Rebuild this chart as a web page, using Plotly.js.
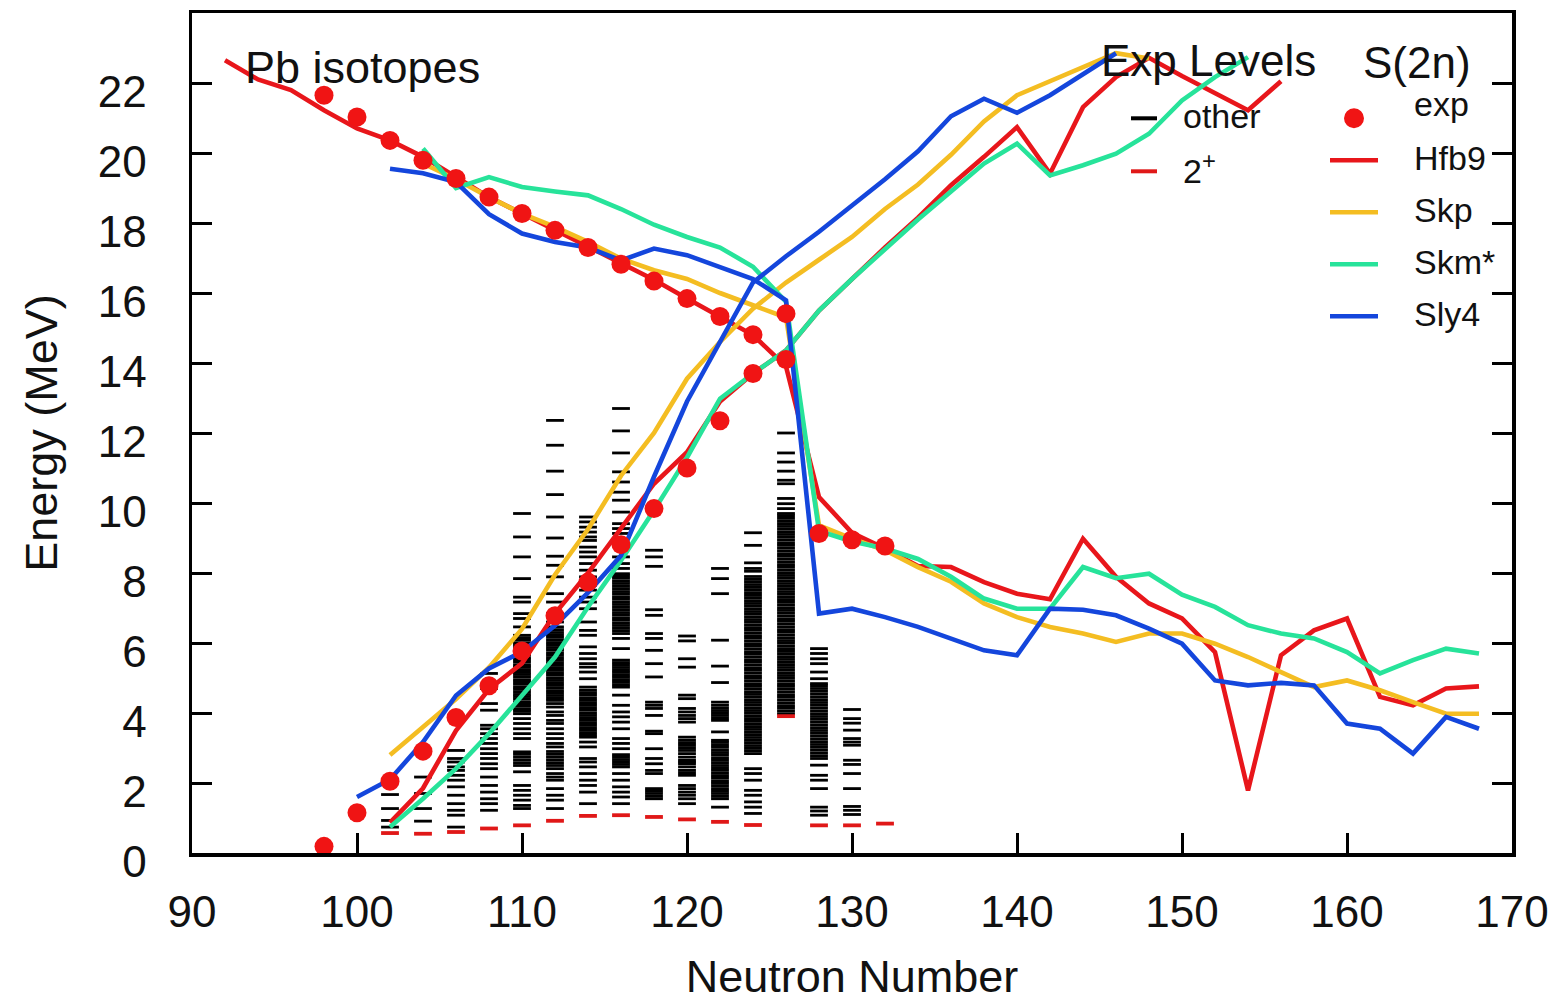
<!DOCTYPE html>
<html><head><meta charset="utf-8">
<script src="https://cdn.plot.ly/plotly-3.0.1.min.js"></script>
<style>html,body{margin:0;padding:0;background:#fff;}#chart{width:1549px;height:1002px;}</style>
</head><body><div id="chart"></div>
<script>
// ---------------- data ----------------
// experimental S(2n)-type points (two branches)
const expUpperN = [98,100,102,104,106,108,110,112,114,116,118,120,122,124,126,128,130,132];
const expUpperE = [21.65,21.03,20.36,19.79,19.27,18.74,18.27,17.79,17.30,16.82,16.34,15.84,15.33,14.81,15.41,9.13,8.95,8.77];
const expLowerN = [98,100,102,104,106,108,110,112,114,116,118,120,122,124,126];
const expLowerE = [0.19,1.15,2.05,2.91,3.87,4.78,5.77,6.78,7.74,8.81,9.84,11.0,12.35,13.7,14.1];

// Hfb9
const hfb9DescN = [92,94,96,98,100,102,104,106,108,110,112,114,116,118,120,122,124,126,128,130,132,134,136,138,140,142,144,146,148,150,152,154,156,158,160,162,164,166,168];
const hfb9DescE = [22.65,22.1,21.8,21.22,20.7,20.36,19.89,19.31,18.74,18.27,17.79,17.33,16.86,16.38,15.84,15.33,14.8,13.9,10.17,9.15,8.7,8.2,8.17,7.74,7.41,7.25,8.98,7.89,7.13,6.7,5.74,1.79,5.65,6.36,6.7,4.46,4.22,4.7,4.76];
const hfb9AscN = [102,104,106,108,110,112,114,116,118,120,122,124,126,128,130,132,134,136,138,140,142,144,146,148,150,152,154,156];
const hfb9AscE = [0.87,1.85,3.5,4.68,5.42,6.84,8.0,9.3,10.55,11.45,12.9,13.7,14.36,15.5,16.4,17.3,18.15,19.08,19.89,20.74,19.41,21.31,22.17,22.72,22.2,21.7,21.22,22.05];

// Skp
const skpDescN = [104,106,108,110,112,114,116,118,120,122,124,126,128,130,132,134,136,138,140,142,144,146,148,150,152,154,156,158,160,162,164,166,168];
const skpDescE = [19.7,19.25,18.74,18.27,17.89,17.46,16.98,16.65,16.4,16.0,15.65,15.3,9.36,8.98,8.65,8.17,7.75,7.13,6.74,6.46,6.27,6.03,6.27,6.27,5.98,5.6,5.17,4.74,4.93,4.65,4.31,3.98,3.98];
const skpAscN = [102,104,106,108,110,112,114,116,118,120,122,124,126,128,130,132,134,136,138,140,142,144,146,148];
const skpAscE = [2.8,3.6,4.4,5.3,6.4,7.95,9.25,10.78,12.0,13.55,14.6,15.55,16.3,16.95,17.6,18.4,19.1,19.95,20.9,21.65,22.05,22.45,22.85,22.7];

// Skm*
const skmDescN = [104,106,108,110,112,114,116,118,120,122,124,126,128,130,132,134,136,138,140,142,144,146,148,150,152,154,156,158,160,162,164,166,168];
const skmDescE = [20.13,19.0,19.31,19.03,18.9,18.79,18.4,17.95,17.6,17.3,16.75,15.75,9.2,8.9,8.7,8.4,7.89,7.27,6.98,6.98,8.17,7.85,7.98,7.38,7.03,6.51,6.27,6.13,5.74,5.13,5.51,5.84,5.7];
const skmAscN = [102,104,106,108,110,112,114,116,118,120,122,124,126,128,130,132,134,136,138,140,142,144,146,148,150,152,154];
const skmAscE = [0.74,1.55,2.41,3.41,4.5,5.6,7.03,8.36,9.79,11.3,12.98,13.7,14.36,15.5,16.4,17.25,18.1,18.9,19.7,20.27,19.36,19.65,19.98,20.55,21.5,22.17,22.74];

// Sly4
const sly4DescN = [102,104,106,108,110,112,114,116,118,120,122,124,126,128,130,132,134,136,138,140,142,144,146,148,150,152,154,156,158,160,162,164,166,168];
const sly4DescE = [19.55,19.42,19.17,18.25,17.7,17.46,17.3,16.93,17.27,17.08,16.74,16.4,15.79,6.84,6.98,6.74,6.46,6.13,5.79,5.65,6.98,6.95,6.79,6.41,5.98,4.93,4.79,4.86,4.79,3.7,3.55,2.84,3.89,3.55];
const sly4AscN = [100,102,104,106,108,110,112,114,116,118,120,122,124,126,128,130,132,134,136,138,140,142,144,146];
const sly4AscE = [1.6,2.1,3.17,4.5,5.27,5.75,6.5,7.44,8.5,10.75,12.9,14.6,16.3,17.05,17.75,18.5,19.25,20.05,21.05,21.55,21.15,21.65,22.25,22.85];

// experimental levels ("other") per neutron number
const lev102 = [0.74,0.93,1.27,1.67];
const lev104 = [0.91,1.27,1.70,2.17];
const lev106 = [0.74,1.08,1.22,1.41,1.65,1.89,2.08,2.22,2.36,2.46,2.60,2.70,2.93];
const lev108 = [1.22,1.41,1.55,1.74,1.93,2.17,2.41,2.55,2.70,2.84,2.98,3.13,3.27,3.41,3.55,3.65,4.08,4.27,4.70,5.13];
const lev110 = [1.27,1.36,1.51,1.65,1.79,1.93,2.32,2.50,2.58,2.66,2.74,2.82,2.89,3.27,3.41,3.55,3.70,3.84,3.98,4.05,4.11,4.19,4.26,4.32,4.40,4.47,4.53,4.61,4.68,4.74,4.82,4.89,4.95,5.03,5.10,5.16,5.24,5.31,5.37,5.45,5.52,5.58,5.66,5.73,5.79,5.87,5.94,6.00,6.08,6.15,6.22,6.46,6.70,6.84,7.17,7.31,7.84,8.46,9.03,9.70];
const lev112 = [1.27,1.51,1.65,1.84,2.08,2.17,2.27,2.41,2.50,2.58,2.66,2.74,2.82,2.90,3.03,3.13,3.27,3.41,3.55,3.70,3.79,3.93,4.03,4.17,4.27,4.36,4.43,4.50,4.57,4.64,4.72,4.79,4.86,4.93,5.00,5.08,5.15,5.22,5.29,5.36,5.44,5.51,5.58,5.65,5.72,5.80,5.87,5.94,6.01,6.08,6.16,6.23,6.30,6.38,6.46,6.60,6.84,7.17,7.41,7.89,8.22,8.48,9.00,9.60,10.24,10.91,11.65,12.36];
const lev114 = [1.41,1.74,1.93,2.08,2.27,2.46,2.60,2.70,3.03,3.17,3.31,3.37,3.44,3.51,3.58,3.65,3.72,3.79,3.86,3.93,4.00,4.08,4.15,4.22,4.29,4.36,4.43,4.51,4.58,4.65,4.74,4.98,5.17,5.31,5.41,5.55,5.70,5.89,6.22,6.36,6.60,6.98,7.17,7.31,7.51,7.65,7.89,8.08,8.27,8.46,8.60,8.74,8.93,9.03,9.17,9.31,9.46,9.60];
const lev116 = [1.41,1.60,1.74,1.89,2.08,2.27,2.46,2.53,2.60,2.67,2.74,2.81,2.98,3.13,3.27,3.55,3.74,3.89,4.03,4.22,4.51,4.74,4.81,4.88,4.95,5.02,5.09,5.16,5.23,5.30,5.37,5.44,5.51,5.84,6.13,6.27,6.35,6.42,6.50,6.57,6.65,6.72,6.80,6.87,6.95,7.02,7.10,7.17,7.25,7.32,7.40,7.47,7.55,7.62,7.70,7.77,7.85,7.92,7.98,8.13,8.27,8.46,9.13,9.27,9.41,9.74,10.08,10.31,10.60,10.89,11.43,12.06,12.70];
const lev118 = [1.55,1.62,1.70,1.77,1.84,2.27,2.36,2.55,2.70,2.98,3.41,3.48,3.93,4.13,4.22,4.31,5.03,5.41,5.79,6.13,6.27,6.79,6.95,8.19,8.46,8.65];
const lev120 = [1.41,1.55,1.65,1.74,1.84,1.93,2.22,2.29,2.36,2.46,2.55,2.60,2.65,2.74,2.84,2.93,3.01,3.08,3.15,3.22,3.31,3.74,3.84,3.93,4.03,4.13,4.41,4.51,5.31,5.55,6.06,6.20];
const lev122 = [1.31,1.55,1.62,1.70,1.77,1.84,1.92,1.99,2.06,2.14,2.21,2.28,2.36,2.43,2.50,2.58,2.65,2.72,2.80,2.87,2.94,3.02,3.09,3.16,3.22,3.46,3.79,3.86,3.93,4.00,4.07,4.14,4.22,4.31,4.87,5.34,6.08,7.41,7.84,8.13];
const lev124 = [1.13,1.31,1.46,1.65,1.79,2.08,2.27,2.41,2.84,2.92,2.99,3.07,3.15,3.22,3.30,3.38,3.45,3.53,3.61,3.68,3.76,3.84,3.91,3.99,4.07,4.14,4.22,4.30,4.37,4.45,4.53,4.60,4.68,4.76,4.83,4.91,4.99,5.06,5.14,5.22,5.29,5.37,5.45,5.52,5.60,5.68,5.75,5.83,5.91,5.98,6.06,6.14,6.21,6.29,6.37,6.44,6.52,6.60,6.67,6.75,6.83,6.90,6.98,7.06,7.13,7.21,7.29,7.36,7.44,7.52,7.59,7.67,7.75,7.82,7.90,8.05,8.13,8.29,8.79,9.15];
const lev126 = [3.98,4.06,4.14,4.21,4.29,4.37,4.45,4.52,4.60,4.68,4.76,4.83,4.91,4.99,5.07,5.14,5.22,5.30,5.38,5.45,5.53,5.61,5.69,5.76,5.84,5.92,6.00,6.07,6.15,6.23,6.31,6.38,6.46,6.54,6.62,6.69,6.77,6.85,6.93,7.00,7.08,7.16,7.24,7.31,7.39,7.47,7.55,7.62,7.70,7.78,7.86,7.93,8.01,8.09,8.17,8.24,8.32,8.40,8.48,8.55,8.63,8.71,8.79,8.86,8.94,9.02,9.10,9.17,9.25,9.33,9.41,9.48,9.56,9.64,9.70,9.84,9.98,10.13,10.55,10.65,10.91,11.17,11.43,12.0];
const lev128 = [1.08,1.20,1.31,1.84,2.08,2.22,2.51,2.70,2.78,2.86,2.94,3.02,3.10,3.18,3.26,3.34,3.42,3.50,3.58,3.66,3.74,3.82,3.90,3.98,4.06,4.14,4.22,4.30,4.38,4.46,4.54,4.62,4.70,4.78,4.84,4.98,5.17,5.41,5.55,5.70,5.84];
const lev130 = [1.10,1.22,1.33,1.84,2.27,2.53,2.65,3.08,3.17,3.27,3.51,3.71,3.84,4.10];
const levelN = [102,104,106,108,110,112,114,116,118,120,122,124,126,128,130];

// first 2+ levels
const twoPlusN = [102,104,106,108,110,112,114,116,118,120,122,124,126,128,130,132];
const twoPlusE = [0.57,0.55,0.60,0.70,0.79,0.92,1.06,1.08,1.03,0.96,0.89,0.80,3.91,0.79,0.79,0.84];

// tick values
const xTicks = [90,100,110,120,130,140,150,160,170];
const yTicks = [0,2,4,6,8,10,12,14,16,18,20,22];

// ---------------- build ----------------
const FONT = 'Liberation Sans, Arial, Helvetica, sans-serif';
const HW = 0.54; // half width of a level dash, in neutron-number units
const levelLists = [lev102,lev104,lev106,lev108,lev110,lev112,lev114,lev116,lev118,lev120,lev122,lev124,lev126,lev128,lev130];

function dashes(ns, lists) {
  const x = [], y = [];
  ns.forEach((n, i) => {
    lists[i].forEach(e => { x.push(n - HW, n + HW, null); y.push(e, e, null); });
  });
  return {x, y};
}
const other = dashes(levelN, levelLists);
const tp = dashes(twoPlusN, twoPlusE.map(e => [e]));

const RED = '#e8161b', YEL = '#f4bd22', GRN = '#27e39a', BLU = '#1446dc';
const LW = 4.6;
function line(n, e, color, name) {
  return {x: n, y: e, type: 'scatter', mode: 'lines', name: name, showlegend: false,
          line: {color: color, width: LW}, hoverinfo: 'skip'};
}

const traces = [
  {x: other.x, y: other.y, type: 'scatter', mode: 'lines', name: 'other', showlegend: false,
   line: {color: '#000', width: 2.8}, hoverinfo: 'skip'},
  {x: tp.x, y: tp.y, type: 'scatter', mode: 'lines', name: '2+', showlegend: false,
   line: {color: '#e01818', width: 3.8}, hoverinfo: 'skip'},
  line(hfb9DescN, hfb9DescE, RED, 'Hfb9'),
  line(hfb9AscN, hfb9AscE, RED, 'Hfb9'),
  line(skpDescN, skpDescE, YEL, 'Skp'),
  line(skpAscN, skpAscE, YEL, 'Skp'),
  line(skmDescN, skmDescE, GRN, 'Skm*'),
  line(skmAscN, skmAscE, GRN, 'Skm*'),
  line(sly4DescN, sly4DescE, BLU, 'Sly4'),
  line(sly4AscN, sly4AscE, BLU, 'Sly4'),
  {x: expUpperN, y: expUpperE, type: 'scatter', mode: 'markers', name: 'exp', showlegend: false,
   marker: {color: '#f01414', size: 19}},
  {x: expLowerN, y: expLowerE, type: 'scatter', mode: 'markers', name: 'exp', showlegend: false,
   marker: {color: '#f01414', size: 19}}
];

// plot area in pixels
const L = 192, R = 1512, T = 12.7, B = 852.7;
const PX = p => (p - L) / (R - L);
const PY = p => (B - p) / (B - T);

function txt(text, xpx, ypx, size) {
  return {text: text, x: PX(xpx), y: PY(ypx), xref: 'paper', yref: 'paper',
          xanchor: 'left', yanchor: 'middle', showarrow: false,
          font: {family: FONT, size: size, color: '#111'}};
}
const annotations = [
  txt('Pb isotopes', 243, 67, 45),
  txt('Exp Levels', 1099, 60, 44),
  txt('S(2n)', 1361, 62, 44),
  txt('other', 1181, 116, 34),
  txt('2<sup>+</sup>', 1181, 168, 34),
  txt('exp', 1412, 104, 34),
  txt('Hfb9', 1412, 158, 34),
  txt('Skp', 1412, 210, 34),
  txt('Skm*', 1412, 262, 34),
  txt('Sly4', 1412, 314, 34)
];
function seg(x0, x1, ypx, color, w) {
  return {type: 'line', xref: 'paper', yref: 'paper', x0: PX(x0), x1: PX(x1), y0: PY(ypx), y1: PY(ypx),
          line: {color: color, width: w}};
}
const shapes = [
  seg(1131, 1157, 118, '#000', 4),
  seg(1131, 1157, 171, '#e01818', 4),
  seg(1330, 1378, 160, RED, LW),
  seg(1330, 1378, 212, YEL, LW),
  seg(1330, 1378, 264, GRN, LW),
  seg(1330, 1378, 316, BLU, LW),
  {type: 'circle', xref: 'paper', yref: 'paper', xsizemode: 'pixel', ysizemode: 'pixel',
   xanchor: PX(1354), yanchor: PY(118), x0: -10, x1: 10, y0: -10, y1: 10,
   fillcolor: '#f01414', line: {width: 0}}
];

const axisCommon = {
  showgrid: false, zeroline: false, showline: true, linecolor: '#000', linewidth: 3.5,
  ticks: 'inside', ticklen: 20, tickwidth: 3, tickcolor: '#000',
  tickfont: {family: FONT, size: 44, color: '#111'}
};
const layout = {
  width: 1549, height: 1002,
  margin: {l: L, r: 1549 - R, t: T, b: 1002 - B, pad: 0},
  paper_bgcolor: '#fff', plot_bgcolor: '#fff',
  showlegend: false,
  xaxis: Object.assign({}, axisCommon, {
    range: [90, 170], tickmode: 'array', tickvals: xTicks, mirror: true,
    ticklabelstandoff: 18,
    title: {text: 'Neutron Number', font: {family: FONT, size: 45, color: '#111'}, standoff: 46}
  }),
  yaxis: Object.assign({}, axisCommon, {
    range: [0, 24], tickmode: 'array', tickvals: yTicks, mirror: 'ticks',
    ticklabelstandoff: 33, ticklabelshift: 9,
    title: {text: 'Energy (MeV)', font: {family: FONT, size: 45, color: '#111'}, standoff: 27}
  }),
  annotations: annotations,
  shapes: shapes
};

Plotly.newPlot('chart', traces, layout, {displayModeBar: false, staticPlot: true});
</script>
</body></html>
